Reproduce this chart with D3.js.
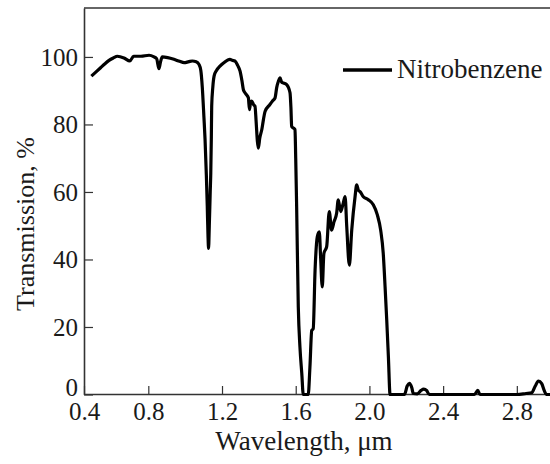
<!DOCTYPE html>
<html>
<head>
<meta charset="utf-8">
<script src="https://cdn.jsdelivr.net/npm/d3@7"></script>
<style>
  body { margin: 0; background: #fff; }
  text { font-family: "Liberation Serif", "Times New Roman", serif; fill: #1a1a1a; }
</style>
</head>
<body>
<div id="container"></div>
<script>
/* CONSTANTS AND GLOBALS */
const width = 550;
const height = 464;
const margin = { top: 8, right: 0, bottom: 70, left: 84 };

/* DATA */
const wavelength = [
  0.491, 0.515, 0.541, 0.565, 0.587, 0.61, 0.632, 0.668, 0.70, 0.72, 0.76, 0.804, 0.831, 0.845, 0.858, 0.866,
  0.876, 0.905, 0.939, 0.97, 0.994, 1.02, 1.039, 1.06, 1.075, 1.085, 1.093, 1.102, 1.108, 1.115, 1.12, 1.124,
  1.127, 1.131, 1.136, 1.139, 1.142, 1.144, 1.15, 1.157, 1.17, 1.189, 1.21, 1.243, 1.255, 1.27, 1.285, 1.298,
  1.308, 1.316, 1.33, 1.343, 1.349, 1.355, 1.361, 1.372, 1.379, 1.385, 1.392, 1.397, 1.405, 1.416, 1.425, 1.434,
  1.46, 1.475, 1.488, 1.497, 1.506, 1.515, 1.524, 1.533, 1.551, 1.569, 1.574, 1.578, 1.596, 1.600, 1.605, 1.614,
  1.623, 1.633, 1.641, 1.668, 1.677, 1.687, 1.695, 1.705, 1.717, 1.728, 1.735, 1.744, 1.753, 1.768, 1.782, 1.795,
  1.808, 1.822, 1.831, 1.844, 1.858, 1.868, 1.877, 1.891, 1.904, 1.922, 1.931, 1.94, 1.949, 1.967, 1.994, 2.021,
  2.043, 2.061, 2.075, 2.085, 2.094, 2.103, 2.112, 2.19, 2.205, 2.217, 2.23, 2.238, 2.26, 2.28, 2.295, 2.31,
  2.325, 2.57, 2.588, 2.60, 2.80, 2.85, 2.88, 2.90, 2.917, 2.935, 2.95, 2.96, 2.98
];
const transmission = [
  94.3, 95.5, 96.8, 98, 99, 99.7, 100.2, 99.7, 98.8, 100.2, 100.2, 100.5, 100, 99.5, 96.5, 98.5,
  100, 99.8, 99.3, 98.7, 98.3, 98.6, 98.8, 98.6, 97.8, 96, 91, 82, 75.5, 65, 55.7, 47,
  43.3, 50, 60, 65.6, 76, 85.4, 91, 94.3, 96, 97.3, 98.3, 99.3, 99, 98.8, 97.5, 95.8,
  93, 90.3, 89, 87.9, 84.4, 86.5, 86.9, 85.8, 85.4, 81, 75, 73.0, 76, 78.5, 81.5, 83.9,
  85.9, 87, 87.9, 91, 92.8, 93.8, 92.5, 92.3, 91.8, 89.4, 85, 79.4, 78.5, 70, 55.7, 25.9,
  14, 6.2, 0, 0, 8, 19, 19.5, 36.8, 46.7, 48.2, 40.8, 31.9, 41.8, 43.8, 54.2, 48.7,
  51.2, 53.7, 57.7, 54.2, 56.7, 58.6, 49.7, 38.3, 48.7, 58.6, 62.1, 60.5, 60.1, 58.6, 57.7, 56.2,
  53.2, 48.7, 41.8, 31.9, 22, 11.1, 0, 0, 2.5, 3.3, 2, 0.3, 0.2, 1.2, 1.6, 1.2,
  0, 0, 1.2, 0, 0, 0.3, 0.5, 2.5, 4.0, 3.2, 1, 0, 0
];
const xTicks = [0.4, 0.8, 1.2, 1.6, 2.0, 2.4, 2.8];
const yTicks = [0, 20, 40, 60, 80, 100];
const seriesName = "Nitrobenzene";

const data = wavelength.map((w, i) => ({ w: w, t: transmission[i] }));

/* SVG */
const svg = d3.select("#container")
  .append("svg")
  .attr("width", width)
  .attr("height", height);

/* SCALES */
// axis starts a bit past 0.4 in the original scan, so clamp puts the 0.4 label at the corner
const xScale = d3.scaleLinear()
  .domain([0.451, 2.98])
  .range([margin.left, width - margin.right])
  .clamp(true);

const yScale = d3.scaleLinear()
  .domain([0, 114.5])
  .range([height - margin.bottom + 0.5, margin.top]);

/* AXES */
const xAxis = d3.axisBottom(xScale)
  .tickValues(xTicks)
  .tickFormat(d3.format(".1f"))
  .tickSizeInner(-8)
  .tickSizeOuter(0)
  .tickPadding(8);

const xg = svg.append("g")
  .attr("transform", `translate(0,${height - margin.bottom})`)
  .call(xAxis);
xg.select(".domain").attr("stroke", "#333").attr("stroke-width", 1.6);
xg.selectAll(".tick line").attr("stroke", "#333").attr("stroke-width", 1.2);
xg.selectAll(".tick text").style("font-size", "25px").attr("fill", "#1a1a1a");

const yAxis = d3.axisLeft(yScale)
  .tickValues(yTicks)
  .tickSizeInner(-9)
  .tickSizeOuter(0)
  .tickPadding(6);

const yg = svg.append("g")
  .attr("transform", `translate(${margin.left},0)`)
  .call(yAxis);
yg.select(".domain").attr("stroke", "#333").attr("stroke-width", 1.6);
yg.selectAll(".tick line").attr("stroke", "#333").attr("stroke-width", 1.2);
yg.selectAll(".tick text")
  .style("font-size", "25px")
  .attr("fill", "#1a1a1a")
  .attr("dy", d => d === 0 ? "0.05em" : "0.34em"); // the zero sits a little higher

// top frame line
svg.append("line")
  .attr("x1", margin.left)
  .attr("x2", width)
  .attr("y1", yScale(114.5))
  .attr("y2", yScale(114.5))
  .attr("stroke", "#333")
  .attr("stroke-width", 1.6);

/* LINE */
const line = d3.line()
  .x(d => xScale(d.w))
  .y(d => yScale(d.t))
  .curve(d3.curveMonotoneX);

svg.append("path")
  .datum(data)
  .attr("d", line)
  .attr("fill", "none")
  .attr("stroke", "#000")
  .attr("stroke-width", 3.2)
  .attr("stroke-linejoin", "round");

/* LEGEND */
const legend = svg.append("g").attr("transform", "translate(343,70)");
legend.append("line")
  .attr("x1", 0).attr("x2", 49)
  .attr("y1", 0).attr("y2", 0)
  .attr("stroke", "#000")
  .attr("stroke-width", 3.5);
legend.append("text")
  .attr("x", 54)
  .attr("y", 8)
  .style("font-size", "27px")
  .text(seriesName);

/* AXIS LABELS */
svg.append("text")
  .attr("x", 304)
  .attr("y", 450)
  .attr("text-anchor", "middle")
  .style("font-size", "27px")
  .text("Wavelength, μm");

svg.append("text")
  .attr("transform", "translate(34,224) rotate(-90)")
  .attr("text-anchor", "middle")
  .style("font-size", "26px")
  .text("Transmission, %");
</script>
</body>
</html>
